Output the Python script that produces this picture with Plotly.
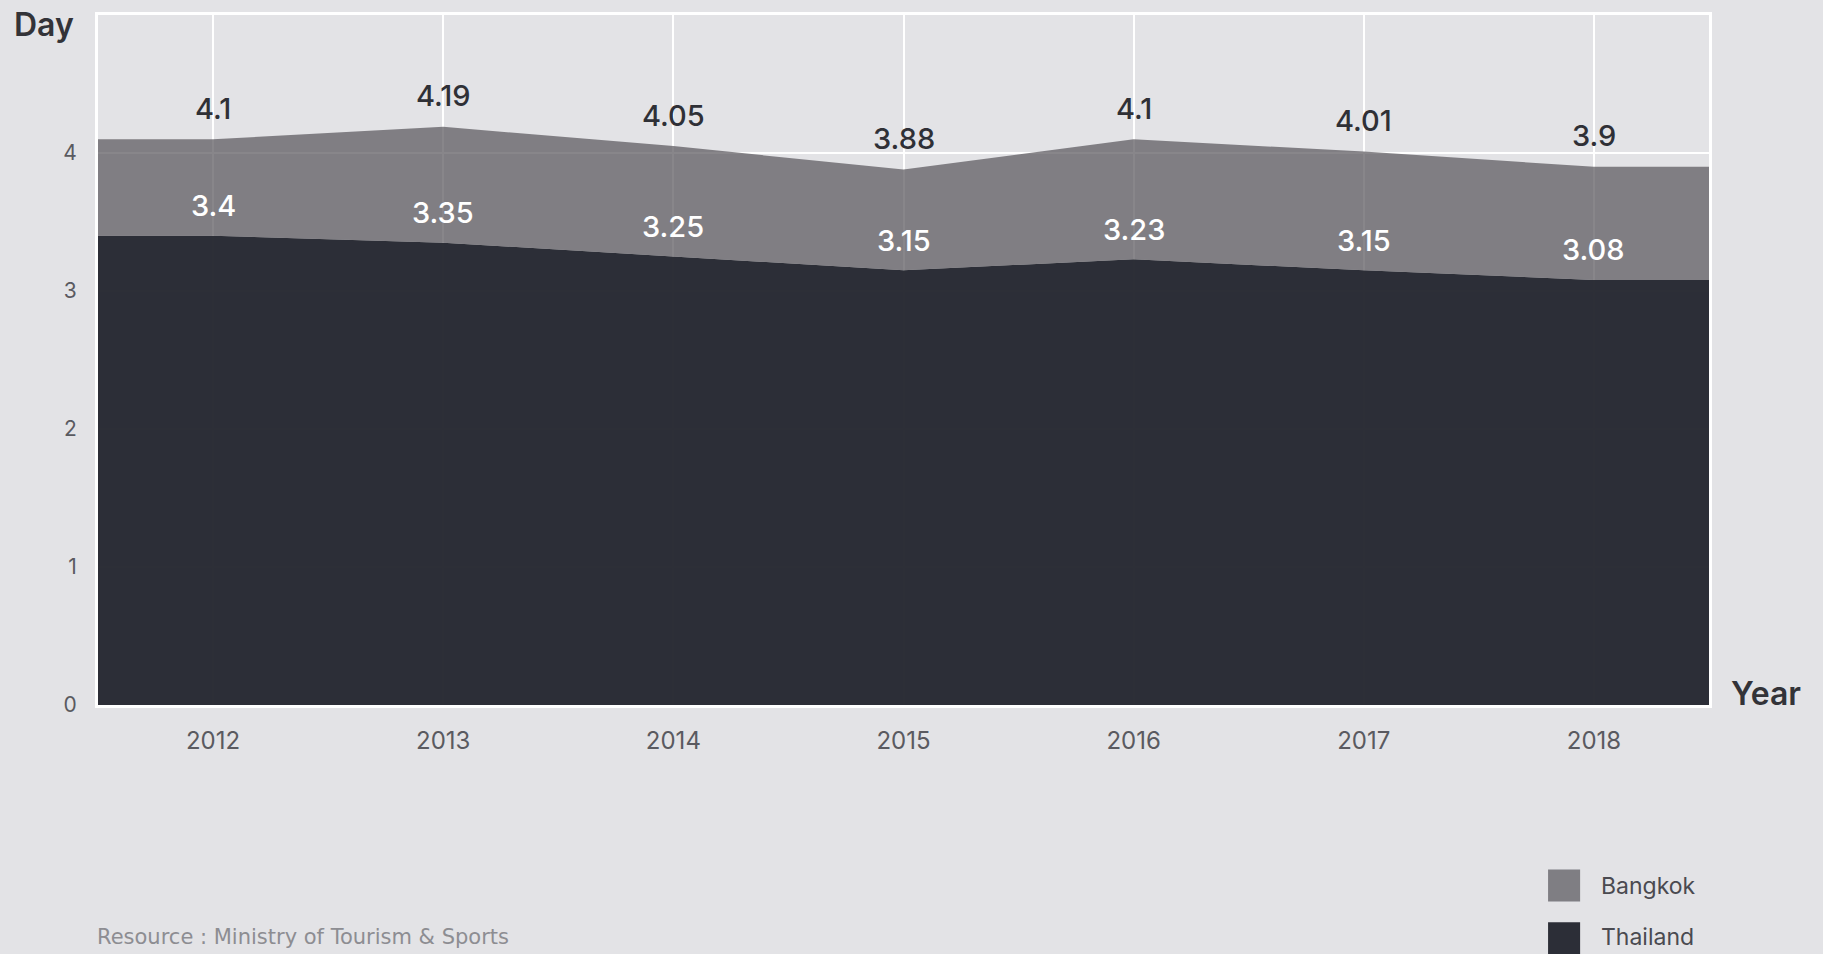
import plotly.graph_objects as go

years = [2012, 2013, 2014, 2015, 2016, 2017, 2018]
bangkok = [4.10, 4.19, 4.05, 3.88, 4.10, 4.01, 3.90]
thailand = [3.40, 3.35, 3.25, 3.15, 3.23, 3.15, 3.08]
y_ticks = [0, 1, 2, 3, 4]
source_text = "Resource : Ministry of Tourism & Sports"

BG = "#e3e3e6"
BANGKOK_FILL = "rgba(85,83,89,0.7)"
BANGKOK_SWATCH = "#7f7e83"
THAI_FILL = "rgba(38,40,49,0.97)"
THAI_SWATCH = "#2c2e37"
FONT = "Inter"

# extend the areas half a step to the plot edges (flat)
x_ext = [years[0] - 0.5] + years + [years[-1] + 0.5]
th_ext = [thailand[0]] + thailand + [thailand[-1]]
bk_ext = [bangkok[0]] + bangkok + [bangkok[-1]]

fig = go.Figure()
fig.add_trace(go.Scatter(x=x_ext, y=th_ext, mode="lines", line=dict(width=0),
                         fill="tozeroy", fillcolor=THAI_FILL, name="Thailand",
                         hoverinfo="skip", showlegend=False))
fig.add_trace(go.Scatter(x=x_ext, y=bk_ext, mode="lines", line=dict(width=0),
                         fill="tonexty", fillcolor=BANGKOK_FILL, name="Bangkok",
                         hoverinfo="skip", showlegend=False))

ann = []
for x, v in zip(years, bangkok):
    ann.append(dict(x=x, y=v, xref="x", yref="y", text=f"{v:g}", showarrow=False,
                    yshift=31, font=dict(family=FONT, size=29, color="#2f3036", weight=500)))
for x, v in zip(years, thailand):
    ann.append(dict(x=x, y=v, xref="x", yref="y", text=f"{v:g}", showarrow=False,
                    yshift=30, font=dict(family=FONT, size=29, color="#ffffff", weight=500)))

# axis titles
ann.append(dict(x=-0.0535, y=0.986, xref="paper", yref="paper", xanchor="left", yanchor="middle",
                text="Day", showarrow=False, font=dict(family=FONT, size=32, color="#333338", weight=600)))
ann.append(dict(x=1.0125, y=0.0173, xref="paper", yref="paper", xanchor="left", yanchor="middle",
                text="Year", showarrow=False, font=dict(family=FONT, size=32, color="#333338", weight=600)))
# source
ann.append(dict(x=-0.002, y=-0.3367, xref="paper", yref="paper", xanchor="left", yanchor="middle",
                text=source_text, showarrow=False,
                font=dict(family="DejaVu Sans", size=21, color="#8d8d92")))

# manual legend
legend_items = [("Bangkok", BANGKOK_SWATCH, -0.2384, -0.2847, -0.263),
                ("Thailand", THAI_SWATCH, -0.315, -0.3613, -0.3367)]
shapes = []
for name, col, y1, y0, yc in legend_items:
    shapes.append(dict(type="rect", xref="paper", yref="paper", x0=0.9001, x1=0.92, y0=y0, y1=y1,
                       fillcolor=col, line=dict(width=0)))
    ann.append(dict(x=0.9315, y=yc, xref="paper", yref="paper", xanchor="left", yanchor="middle",
                    text=name, showarrow=False, font=dict(family=FONT, size=23, color="#4a4a50")))

fig.update_layout(
    width=1823, height=954,
    margin=dict(l=98, r=114, t=13, b=249),
    paper_bgcolor=BG, plot_bgcolor=BG,
    annotations=ann, shapes=shapes,
    showlegend=False,
    xaxis=dict(range=[years[0] - 0.5, years[-1] + 0.5], tickvals=years,
               ticktext=[str(y) for y in years],
               showgrid=True, gridcolor="#ffffff", gridwidth=2,
               showline=True, mirror=True, linecolor="#ffffff", linewidth=3,
               ticks="outside", ticklen=12, tickcolor="rgba(0,0,0,0)",
               tickfont=dict(family=FONT, size=24, color="#5a5a60"), zeroline=False),
    yaxis=dict(range=[0, 5], tickvals=y_ticks, ticktext=[str(t) for t in y_ticks],
               showgrid=True, gridcolor="#ffffff", gridwidth=2,
               showline=True, mirror=True, linecolor="#ffffff", linewidth=3,
               ticks="outside", ticklen=14, tickcolor="rgba(0,0,0,0)",
               tickfont=dict(family=FONT, size=21, color="#5a5a60"), zeroline=False),
)

fig.write_html("out.html", config={"displayModeBar": False},
               post_script="document.body.style.margin='0';document.body.style.overflow='hidden';")
